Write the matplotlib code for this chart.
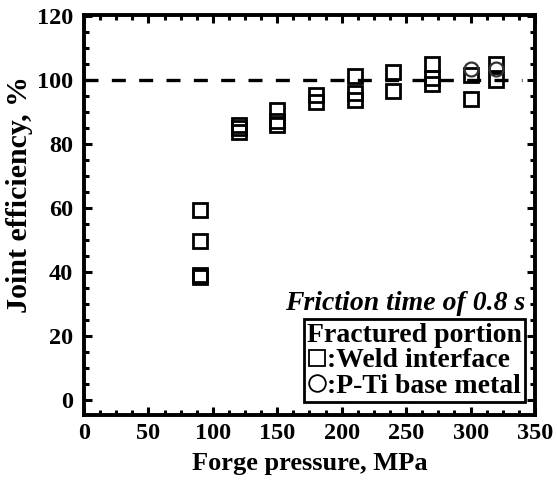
import matplotlib
matplotlib.use("Agg")
import matplotlib.pyplot as plt
from matplotlib.lines import Line2D
from matplotlib.ticker import MultipleLocator

plt.rcParams["font.family"] = ["Liberation Serif", "DejaVu Serif"]
plt.rcParams["font.weight"] = "bold"

# Weld interface fracture (squares)
weld_pressure = [90, 90, 90, 90, 120, 120, 120, 150, 150, 150, 180, 180,
                 210, 210, 210, 240, 240, 270, 270, 270, 300, 300, 320, 320]
weld_eff = [59.5, 49.8, 39.0, 38.5, 86.0, 85.0, 83.8, 90.5, 87.0, 86.0, 95.3, 93.0,
            101.0, 96.0, 93.8, 102.5, 96.6, 105.0, 100.5, 98.8, 101.5, 94.0, 104.8, 99.8]

# P-Ti base metal fracture (circles)
base_pressure = [300, 320]
base_eff = [103.3, 103.3]

fig = plt.figure(figsize=(5.57, 4.82), dpi=100)
ax = fig.add_axes([0.1508, 0.139, 0.8097, 0.830])

ax.plot([0, 340], [100, 100], color="black", linestyle=(0, (4.2, 4.0)), linewidth=2.4, zorder=1)
ax.plot(weld_pressure, weld_eff, linestyle="none", marker="s", markersize=10.5,
        markerfacecolor="none", markeredgecolor="black", markeredgewidth=2, zorder=3)
ax.plot(base_pressure, base_eff, linestyle="none", marker="o", markersize=10,
        markerfacecolor="none", markeredgecolor="#333333", markeredgewidth=1.6, zorder=4)

ax.set_xlim(0, 350)
ax.set_ylim(-4.6, 120.2)
ax.xaxis.set_major_locator(MultipleLocator(50))
ax.xaxis.set_minor_locator(MultipleLocator(12.5))
ax.yaxis.set_major_locator(MultipleLocator(20))
ax.yaxis.set_minor_locator(MultipleLocator(5))
ax.tick_params(which="both", direction="in", top=True, right=True, labelsize=17.5, width=2.2)
ax.tick_params(which="major", length=6)
ax.tick_params(which="minor", length=3.5)
ax.tick_params(axis="x", which="major", pad=6)
ax.tick_params(axis="y", which="major", pad=8)
for s in ax.spines.values():
    s.set_linewidth(2.8)

ax.set_xlabel("Forge pressure, MPa", fontsize=19, fontweight="bold")
ax.set_ylabel("Joint efficiency, %", fontsize=21.5, fontweight="bold")
ax.xaxis.set_label_coords(0.501, -0.093)
ax.yaxis.set_label_coords(-0.113, 0.55)

ax.text(0.978, 0.278, "Friction time of 0.8 s", transform=ax.transAxes, ha="right", va="center",
        fontsize=20, fontweight="bold", fontstyle="italic")

handles = [
    Line2D([], [], linestyle="none", marker="s", markersize=12, markerfacecolor="none",
           markeredgecolor="black", markeredgewidth=1.3),
    Line2D([], [], linestyle="none", marker="o", markersize=12, markerfacecolor="none",
           markeredgecolor="black", markeredgewidth=1.3),
]
leg = ax.legend(handles, [":Weld interface", ":P-Ti base metal"], title="Fractured portion",
                loc="lower right", bbox_to_anchor=(0.978, 0.0325), frameon=True, fancybox=False,
                handlelength=0.7, handletextpad=0.0, borderpad=0.12, labelspacing=0.0,
                borderaxespad=0, prop={"size": 20, "weight": "bold"})
leg.get_title().set_fontsize(20)
leg.get_title().set_fontweight("bold")
leg.get_frame().set_edgecolor("black")
leg.get_frame().set_linewidth(2)
leg.get_frame().set_alpha(1)

fig.savefig("out.png", dpi=100)
